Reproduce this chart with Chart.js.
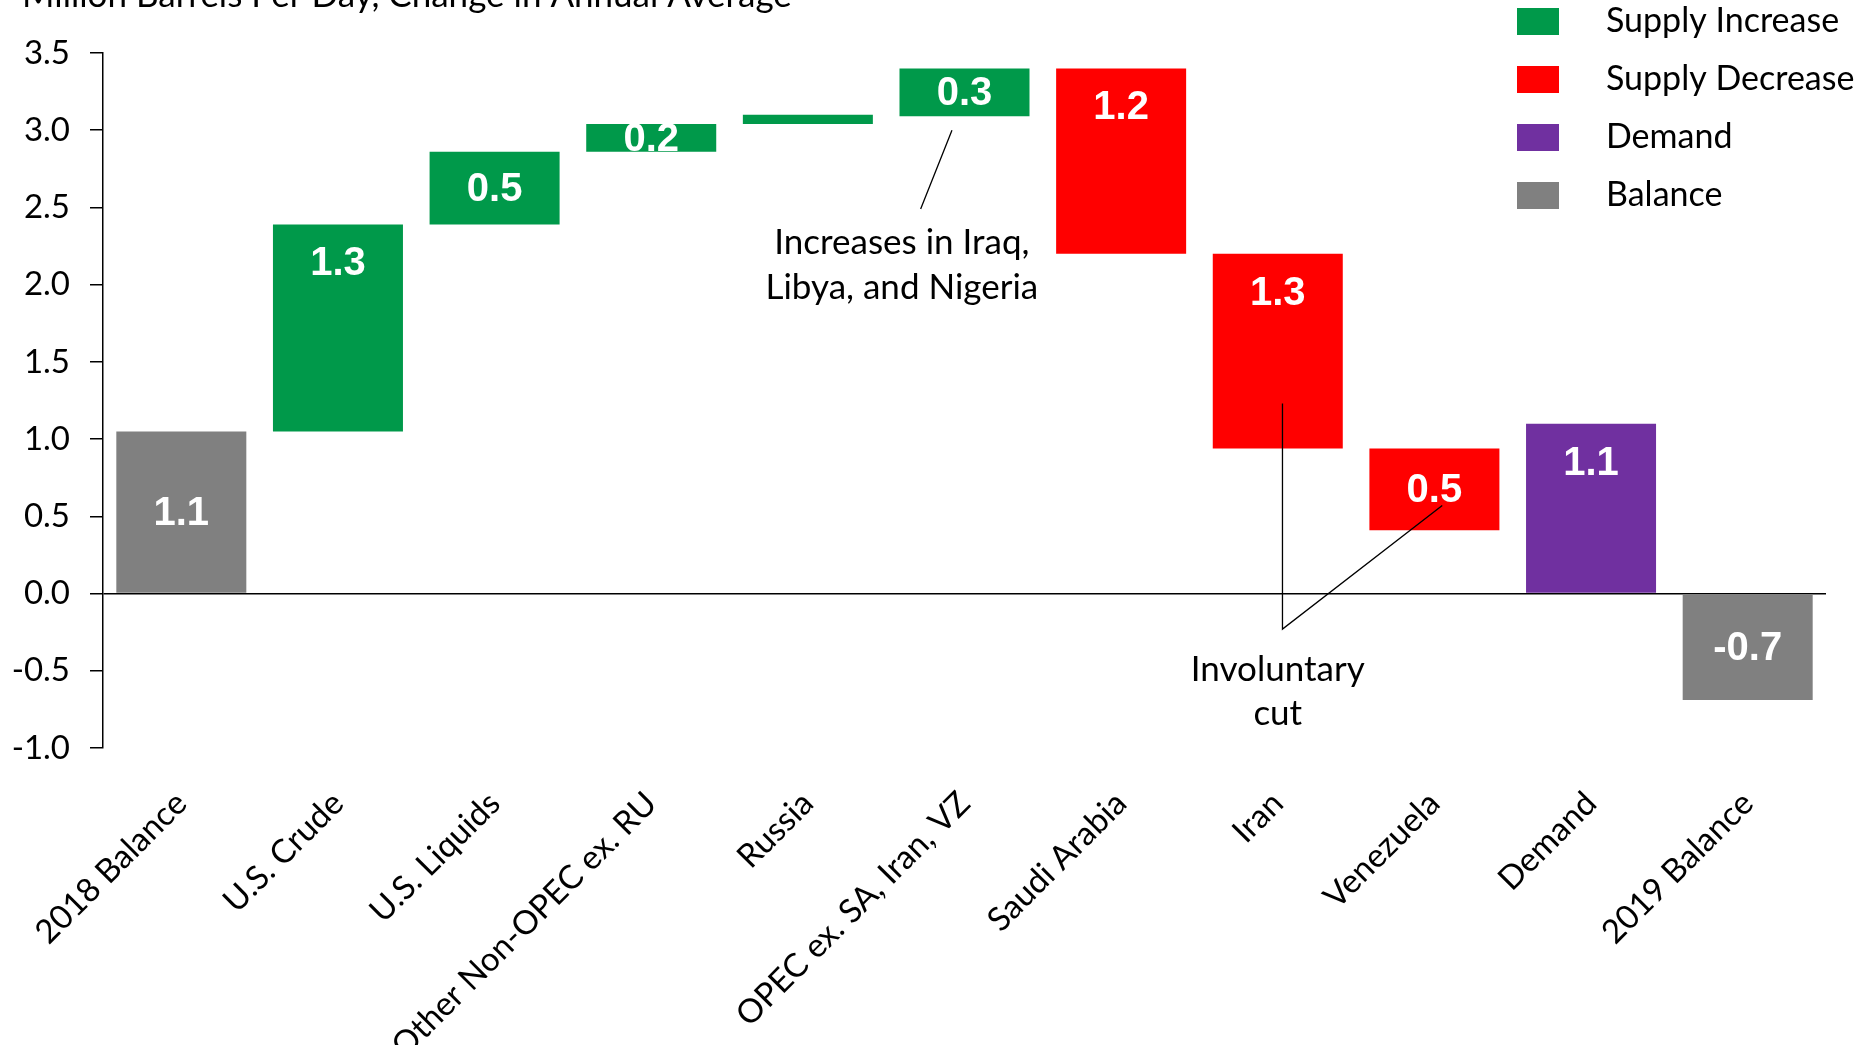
<!DOCTYPE html>
<html>
<head>
<meta charset="utf-8">
<title>Oil Supply and Demand Balance</title>
<script src="https://cdn.jsdelivr.net/npm/chart.js@4.4.1/dist/chart.umd.min.js"></script>
<style>
  html, body { margin: 0; padding: 0; background: #fff; }
  canvas { display: block; }
</style>
</head>
<body>
<canvas id="balance" width="1860" height="1045"></canvas>
<script>
// million barrels per day, change in annual average
const categories = ['2018 Balance', 'U.S. Crude', 'U.S. Liquids', 'Other Non-OPEC ex. RU', 'Russia',
                    'OPEC ex. SA, Iran, VZ', 'Saudi Arabia', 'Iran', 'Venezuela', 'Demand', '2019 Balance'];
const barStart = [0, 1.05, 2.39, 2.86, 3.04, 3.09, 3.40, 2.20, 0.94, 0, 0];
const barEnd   = [1.05, 2.39, 2.86, 3.04, 3.10, 3.40, 2.20, 0.94, 0.41, 1.10, -0.69];
const barKind  = ['balance', 'increase', 'increase', 'increase', 'increase', 'increase',
                  'decrease', 'decrease', 'decrease', 'demand', 'balance'];
const yTicks = [-1.0, -0.5, 0.0, 0.5, 1.0, 1.5, 2.0, 2.5, 3.0, 3.5];

const legendNames = ['Supply Increase', 'Supply Decrease', 'Demand', 'Balance'];
const legendKinds = ['increase', 'decrease', 'demand', 'balance'];
const kindColors = {
  increase: '#00994A',
  decrease: '#FF0000',
  demand: '#7030A0',
  balance: '#808080'
};

const textFont = 'Lato, "Open Sans", sans-serif';

// white value labels inside the bars
const valueLabels = {
  id: 'valueLabels',
  afterDatasetsDraw(chart) {
    const ctx = chart.ctx;
    const meta = chart.getDatasetMeta(0);
    ctx.save();
    ctx.fillStyle = '#fff';
    ctx.font = 'bold 40px "Liberation Sans", Arial, sans-serif';
    ctx.textAlign = 'center';
    ctx.textBaseline = 'middle';
    meta.data.forEach((bar, i) => {
      const top = Math.min(bar.y, bar.base);
      const h = Math.abs(bar.base - bar.y);
      if (h < 15) return;
      const diff = barEnd[i] - barStart[i];
      const text = barKind[i] === 'balance' ? barEnd[i].toFixed(1) : Math.abs(diff).toFixed(1);
      let y = top + h / 2;
      if (barKind[i] !== 'balance' && h > 100) y = top + 38;
      ctx.fillText(text, bar.x, y + 2);
    });
    ctx.restore();
  }
};

// unit title, legend and call-outs
const extras = {
  id: 'extras',
  afterDraw(chart) {
    const ctx = chart.ctx;
    const xs = chart.scales.x;
    const ys = chart.scales.y;
    const px = v => xs.getPixelForValue(0) + v * (xs.getPixelForValue(1) - xs.getPixelForValue(0));
    const py = v => ys.getPixelForValue(v);
    ctx.save();
    ctx.fillStyle = '#000';
    ctx.textBaseline = 'alphabetic';
    ctx.textAlign = 'left';
    ctx.font = '35px ' + textFont;
    ctx.fillText('Million Barrels Per Day, Change in Annual Average', 22, 7);

    // legend
    ctx.font = '34px ' + textFont;
    ctx.textBaseline = 'middle';
    legendNames.forEach((name, i) => {
      const cy = 21 + i * 58;
      ctx.fillStyle = kindColors[legendKinds[i]];
      ctx.fillRect(1517, cy - 13, 42, 27);
      ctx.fillStyle = '#000';
      ctx.fillText(name, 1606, cy);
    });

    // call-out lines
    ctx.strokeStyle = '#000';
    ctx.lineWidth = 1.3;
    ctx.beginPath();
    ctx.moveTo(px(4.92), py(3.0));
    ctx.lineTo(px(4.72), py(2.49));
    ctx.moveTo(px(7.03), py(1.23));
    ctx.lineTo(px(7.03), py(-0.23));
    ctx.lineTo(px(8.05), py(0.57));
    ctx.stroke();

    ctx.textAlign = 'center';
    ctx.font = '35px ' + textFont;
    ctx.fillText('Increases in Iraq,', px(4.6), py(2.27));
    ctx.fillText('Libya, and Nigeria', px(4.6), py(1.98));
    ctx.fillText('Involuntary', px(7.0), py(-0.49));
    ctx.fillText('cut', px(7.0), py(-0.78));
    ctx.restore();
  }
};

new Chart(document.getElementById('balance'), {
  type: 'bar',
  data: {
    labels: categories,
    datasets: [{
      data: categories.map((c, i) => [barStart[i], barEnd[i]]),
      backgroundColor: barKind.map(k => kindColors[k]),
      borderWidth: 0,
      categoryPercentage: 1,
      barPercentage: 0.83
    }]
  },
  options: {
    responsive: false,
    animation: false,
    devicePixelRatio: 1,
    layout: { padding: { top: 53, right: 34, left: 0, bottom: 0 } },
    plugins: {
      legend: { display: false },
      tooltip: { enabled: false }
    },
    scales: {
      x: {
        grid: { display: false },
        border: { display: false },
        ticks: {
          color: '#000',
          font: { family: textFont, size: 33 },
          maxRotation: 45,
          minRotation: 45,
          padding: 28,
          autoSkip: false
        },
        afterFit(scale) { scale.height = 297; }
      },
      y: {
        min: -1,
        max: 3.5,
        afterBuildTicks(scale) { scale.ticks = yTicks.map(v => ({ value: v })); },
        grid: {
          color: ctx => ctx.tick && ctx.tick.value === 0 ? '#000' : 'rgba(0,0,0,0)',
          tickColor: '#000',
          tickLength: 13,
          lineWidth: 1.5
        },
        border: { display: true, color: '#000', width: 1.5 },
        ticks: {
          color: '#000',
          font: { family: textFont, size: 33 },
          padding: 20,
          callback: v => Number(v).toFixed(1)
        },
        afterFit(scale) { scale.width = 103; }
      }
    }
  },
  plugins: [valueLabels, extras]
});
</script>
</body>
</html>
